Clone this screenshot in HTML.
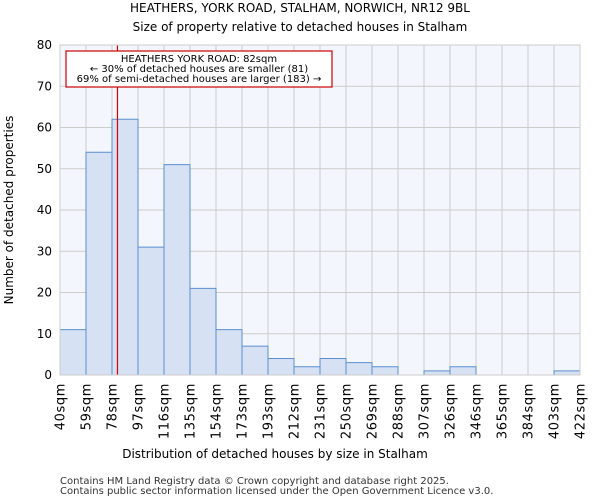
<!DOCTYPE html>
<html><head><meta charset="utf-8"><style>
body{margin:0;background:#fff;font-family:"DejaVu Sans","Liberation Sans",sans-serif}
</style></head><body>
<svg id="chart" width="600" height="500" xmlns="http://www.w3.org/2000/svg" font-family="DejaVu Sans, Liberation Sans, sans-serif">
<text x="300" y="12" text-anchor="middle" font-size="12">HEATHERS, YORK ROAD, STALHAM, NORWICH, NR12 9BL</text>
<text x="300" y="31" text-anchor="middle" font-size="12">Size of property relative to detached houses in Stalham</text>
<rect x="60" y="45" width="520" height="330" fill="#f3f6fd"/>
<g id="grid"></g><g id="bars"></g><g id="axes"></g>
<text x="275" y="458" text-anchor="middle" font-size="12">Distribution of detached houses by size in Stalham</text>
<text transform="translate(13,210) rotate(-90)" text-anchor="middle" font-size="12">Number of detached properties</text>
<text x="60" y="484" font-size="10" fill="#333">Contains HM Land Registry data © Crown copyright and database right 2025.</text>
<text x="60" y="494" font-size="10" fill="#333">Contains public sector information licensed under the Open Government Licence v3.0.</text>
</svg>
<script>
const binEdges=[40,59,78,97,116,135,154,173,193,212,231,250,269,288,307,326,346,365,384,403,422];
const counts=[11,54,62,31,51,21,11,7,4,2,4,3,2,0,1,2,0,0,0,1];
const yTicks=[0,10,20,30,40,50,60,70,80];
const subjectSize=82;
const NS="http://www.w3.org/2000/svg";
const X0=60,X1=580,Y0=375,Y1=45,YMAX=80;
const nb=counts.length;
const xi=i=>X0+i*(X1-X0)/nb;
const xv=v=>{for(let i=0;i<nb;i++){if(v<=binEdges[i+1])return xi(i)+(v-binEdges[i])/(binEdges[i+1]-binEdges[i])*(X1-X0)/nb;}return X1;};
const y=v=>Y0-v*(Y0-Y1)/YMAX;
function mk(t,a,p){const e=document.createElementNS(NS,t);for(const k in a)e.setAttribute(k,a[k]);p.appendChild(e);return e;}
const g=document.getElementById('grid'),b=document.getElementById('bars'),ax=document.getElementById('axes');
yTicks.forEach(t=>{const l=mk('line',{x1:X0,x2:X1,y1:y(t),y2:y(t),stroke:'#ccc'},g);


const tx=mk('text',{x:X0-8,y:y(t)+4,'text-anchor':'end','font-size':12},ax);tx.textContent=t;

});
binEdges.forEach((e,i)=>{const l=mk('line',{x1:xi(i),x2:xi(i),y1:Y1,y2:Y0,stroke:'#ccc'},g);


const tx=mk('text',{transform:`translate(${xi(i)+4.5},${Y0+8}) rotate(-90)`,'text-anchor':'end','font-size':13,'letter-spacing':0.6},ax);tx.textContent=e+'sqm';

});
counts.forEach((c,i)=>{if(c<=0)return;const r=mk('rect',{x:xi(i),y:y(c),width:xi(i+1)-xi(i),height:Y0-y(c),fill:'#d6e1f3',stroke:'#5b8fd0','stroke-width':1},b);

});
const sx=xv(subjectSize);
const rl=mk('line',{x1:sx,x2:sx,y1:Y1,y2:Y0,stroke:'#dd0000','stroke-width':1.2},ax);


const box=mk('rect',{x:66,y:51,width:266,height:36,fill:'#fff',stroke:'#cc0000','stroke-width':1.2},ax);


['HEATHERS YORK ROAD: 82sqm','← 30% of detached houses are smaller (81)','69% of semi-detached houses are larger (183) →'].forEach((s,k)=>{
const t=mk('text',{x:199,y:62+k*10,'text-anchor':'middle','font-size':10},ax);t.textContent=s;

});
mk('rect',{x:X0,y:Y1,width:X1-X0,height:Y0-Y1,fill:'none',stroke:'#ccc'},ax);
</script>
</body></html>
